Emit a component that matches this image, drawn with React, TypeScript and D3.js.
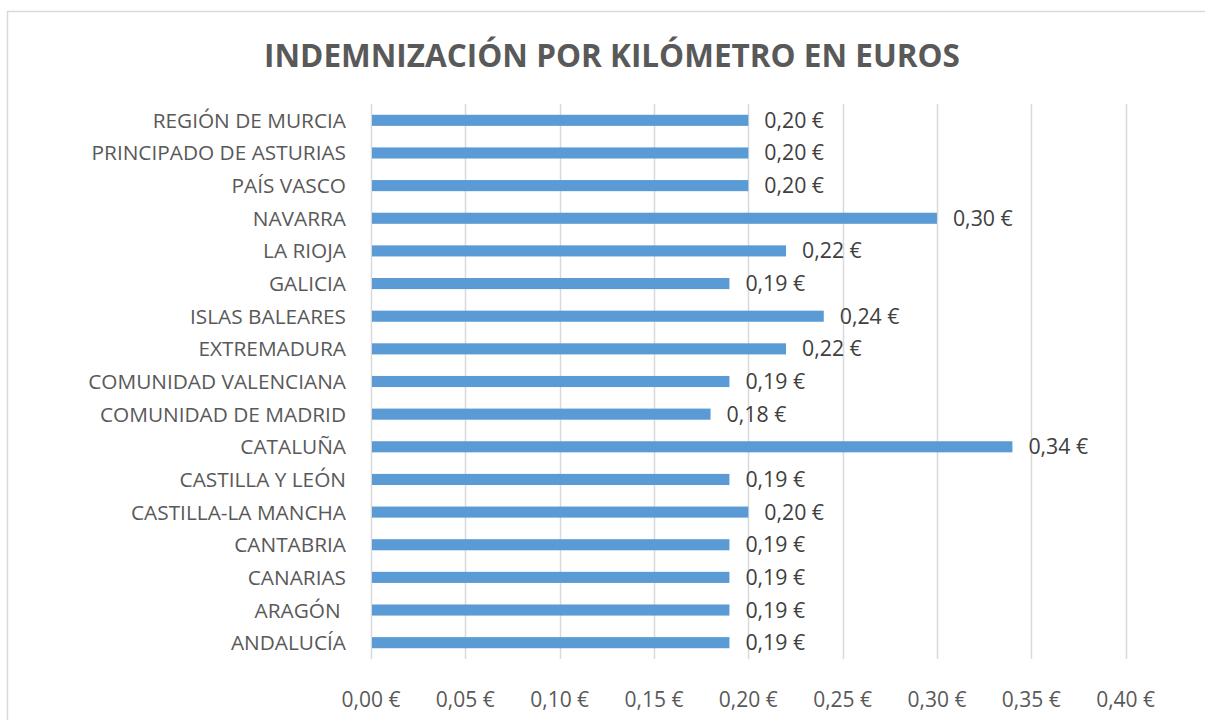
import React from "react";
import * as d3 from "d3";

const categories = [
  "REGIÓN DE MURCIA",
  "PRINCIPADO DE ASTURIAS",
  "PAÍS VASCO",
  "NAVARRA",
  "LA RIOJA",
  "GALICIA",
  "ISLAS BALEARES",
  "EXTREMADURA",
  "COMUNIDAD VALENCIANA",
  "COMUNIDAD DE MADRID",
  "CATALUÑA",
  "CASTILLA Y LEÓN",
  "CASTILLA-LA MANCHA",
  "CANTABRIA",
  "CANARIAS",
  "ARAGÓN ",
  "ANDALUCÍA",
];
const values = [0.2, 0.2, 0.2, 0.3, 0.22, 0.19, 0.24, 0.22, 0.19, 0.18, 0.34, 0.19, 0.2, 0.19, 0.19, 0.19, 0.19];
const ticks = [0, 0.05, 0.1, 0.15, 0.2, 0.25, 0.3, 0.35, 0.4];
const title = "INDEMNIZACIÓN POR KILÓMETRO EN EUROS";

const fmt = (v: number) => v.toFixed(2).replace(".", ",") + " €";

export default function App() {
  const W = 1205, H = 720;
  const x = d3.scaleLinear().domain([0, 0.4]).range([371, 1125.6]);
  const y = d3.scaleBand<string>().domain(categories).range([104, 659]).paddingInner(0.66).paddingOuter(0.33);
  const font = "'Open Sans', sans-serif";
  const bw = y.bandwidth();
  return (
    <svg width={W} height={H} style={{ position: "absolute", left: 0, top: 0 }} fontFamily={font}>
      <rect x={0} y={0} width={W} height={H} fill="#fff" />
      <rect x={7.5} y={11.5} width={1220} height={730} fill="none" stroke="#D9D9D9" strokeWidth={1.5} />
      <text x={612} y={67} textAnchor="middle" fontSize={31.5} fontWeight="bold" fill="#595959">{title}</text>
      {ticks.map((t) => (
        <line key={"g" + t} x1={Math.round(x(t)) + 0.5} x2={Math.round(x(t)) + 0.5} y1={104} y2={659} stroke="#D9D9D9" strokeWidth={1.5} />
      ))}
      {categories.map((c, i) => {
        const yc = (y(c) as number) + bw / 2;
        return (
          <g key={c}>
            <rect x={x(0) + 1} y={y(c)} width={x(values[i]) - x(0) - 1} height={bw} fill="#5B9BD5" />
            <text x={346} y={yc + 7.5} textAnchor="end" fontSize={20.8} fill="#595959" style={{ whiteSpace: "pre" }}>{c}</text>
            <text x={x(values[i]) + 16} y={yc + 7.5} fontSize={21.3} fill="#404040">{fmt(values[i])}</text>
          </g>
        );
      })}
      {ticks.map((t) => (
        <text key={"t" + t} x={x(t)} y={706.5} textAnchor="middle" fontSize={21} fill="#595959">{fmt(t)}</text>
      ))}
    </svg>
  );
}
